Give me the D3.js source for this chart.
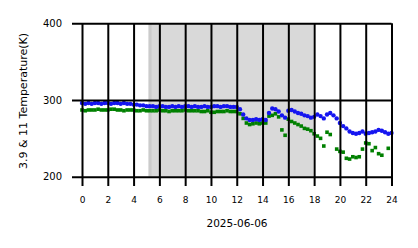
<!DOCTYPE html>
<html>
<head>
<meta charset="utf-8">
<script src="https://cdn.jsdelivr.net/npm/d3@7"></script>
<style>
  body { margin: 0; background: #fff; }
  svg text { font-family: "DejaVu Sans", sans-serif; fill: #000; }
</style>
</head>
<body>
<div id="chart"></div>
<script>
// hours of day, every 15 minutes
var hours = [0,0.25,0.5,0.75,1,1.25,1.5,1.75,2,2.25,2.5,2.75,3,3.25,3.5,3.75,
  4,4.25,4.5,4.75,5,5.25,5.5,5.75,6,6.25,6.5,6.75,7,7.25,7.5,7.75,
  8,8.25,8.5,8.75,9,9.25,9.5,9.75,10,10.25,10.5,10.75,11,11.25,11.5,11.75,
  12,12.25,12.5,12.75,13,13.25,13.5,13.75,14,14.25,14.5,14.75,15,15.25,15.5,15.75,
  16,16.25,16.5,16.75,17,17.25,17.5,17.75,18,18.25,18.5,18.75,19,19.25,19.5,19.75,
  20,20.25,20.5,20.75,21,21.25,21.5,21.75,22,22.25,22.5,22.75,23,23.25,23.5,23.75,24];

// 3.9 um brightness temperature (K)
var temp39 = [296,295,296,295,296,296,295,296,296,295,296,296,295,296,295,295,
  294,294,293,293,292,292,292,291,292,292,291,291,292,291,292,291,
  292,292,291,292,291,291,292,291,291,292,292,291,292,292,291,291,
  291,288,281,276,274,274,275,274,275,274,283,289,288,285,280,277,
  286,287,285,283,282,280,279,277,278,281,279,276,281,283,280,276,
  270,266,263,259,257,256,257,259,256,257,258,259,261,260,258,256,257];

// 11 um brightness temperature (K)
var temp11 = [287,286,287,287,287,288,287,287,287,288,288,287,287,286,287,287,
  287,286,286,287,286,286,286,286,287,286,286,285,286,286,286,286,
  287,286,286,286,286,285,285,286,284,284,285,285,285,286,285,285,
  285,282,276,270,268,269,270,269,270,270,279,280,282,278,261,254,
  275,272,270,268,266,263,262,260,256,253,250,240,258,255,null,236,
  233,232,224,223,226,225,226,236,244,243,234,238,230,228,null,237,null];

var xTicks = [0,2,4,6,8,10,12,14,16,18,20,22,24];
var yTicks = [200,300,400];
var dateLabel = "2025-06-06";
var yLabel = "3.9 & 11 Temperature(K)";
// shaded night period (hours)
var spanMain = [5.42, 17.93];
var spanEdge = [5.15, 5.42];

var W = 418, H = 248;
var x = d3.scaleLinear().domain([0, 24]).range([82, 391.5]);
var y = d3.scaleLinear().domain([200, 400]).range([176.7, 23.3]);

var svg = d3.select("#chart").append("svg")
    .attr("width", W)
    .attr("height", H);

// shaded spans
svg.append("rect")
    .attr("x", x(spanEdge[0]))
    .attr("width", x(spanEdge[1]) - x(spanEdge[0]))
    .attr("y", y(400))
    .attr("height", y(200) - y(400))
    .attr("fill", "#cbcbcb");
svg.append("rect")
    .attr("x", x(spanMain[0]))
    .attr("width", x(spanMain[1]) - x(spanMain[0]))
    .attr("y", y(400))
    .attr("height", y(200) - y(400))
    .attr("fill", "#d9d9d9");

var data39 = hours.map(function(h, i) { return { h: h, v: temp39[i] }; })
    .filter(function(d) { return d.v != null; });
var data11 = hours.map(function(h, i) { return { h: h, v: temp11[i] }; })
    .filter(function(d) { return d.v != null; });

// 11 um points (green squares)
svg.append("g").selectAll("rect")
    .data(data11)
    .enter().append("rect")
    .attr("x", function(d) { return x(d.h) - 1.8; })
    .attr("y", function(d) { return y(d.v) - 1.8; })
    .attr("width", 3.6)
    .attr("height", 3.6)
    .attr("fill", "green");

// 3.9 um points (blue dots)
svg.append("g").selectAll("circle")
    .data(data39)
    .enter().append("circle")
    .attr("cx", function(d) { return x(d.h); })
    .attr("cy", function(d) { return y(d.v); })
    .attr("r", 2.2)
    .attr("fill", "#1515f0");

// grid + ticks on top
var xAxis = d3.axisBottom(x)
    .tickValues(xTicks)
    .tickSize(-(186 - y(400)))
    .tickPadding(11)
    .tickFormat(d3.format("d"));
var xg = svg.append("g")
    .attr("transform", "translate(0,186)")
    .call(xAxis);
xg.select(".domain").remove();
xg.selectAll("line").attr("stroke", "#000").attr("stroke-width", 2);
xg.selectAll("text").attr("font-size", "9px").attr("fill", "#000");

var yAxis = d3.axisLeft(y)
    .tickValues(yTicks)
    .tickSize(-(x(24) - 72))
    .tickPadding(10);
var yg = svg.append("g")
    .attr("transform", "translate(72,0)")
    .call(yAxis);
yg.select(".domain").remove();
yg.selectAll("line").attr("stroke", "#000").attr("stroke-width", 2);
yg.selectAll("text").attr("font-size", "10px").attr("fill", "#000");

svg.append("text")
    .attr("x", 237)
    .attr("y", 226.5)
    .attr("text-anchor", "middle")
    .attr("font-size", "10.5px")
    .text(dateLabel);

svg.append("text")
    .attr("transform", "translate(27,101) rotate(-90)")
    .attr("text-anchor", "middle")
    .attr("font-size", "11px")
    .text(yLabel);
</script>
</body>
</html>
